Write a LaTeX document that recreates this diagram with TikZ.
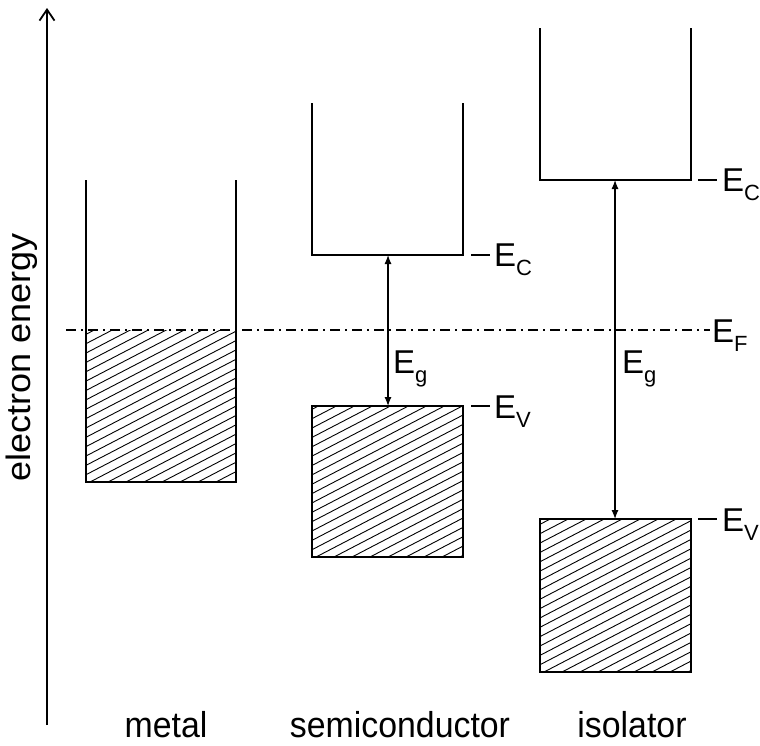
\documentclass[tikz,border=0pt]{standalone}
\usepackage{fontspec}
\setmainfont{Liberation Sans}
\usetikzlibrary{arrows.meta}
\newcommand{\Esub}[1]{E\raisebox{-9pt}{\fontsize{22}{22}\selectfont #1}}
\newcommand{\hatchbox}[4]{%
  \begin{scope}
    \clip (#1,#2) rectangle (#3,#4);
    \foreach \c in {-320,-302,...,200} \draw[hatchline] ({#1+\c},#4) -- ++(420,-218.4);
  \end{scope}}
\begin{document}
\begin{tikzpicture}[x=1pt,y=-1pt,
  band/.style={line width=1.4pt},
  hatchline/.style={line width=0.9pt},
  fermi/.style={line width=1.2pt,dash pattern=on 10pt off 5pt on 2pt off 5pt},
  gaparrow/.style={line width=1.2pt,{Latex[length=9pt,width=7pt]}-{Latex[length=9pt,width=7pt]}},
  lab/.style={font=\fontsize{33}{33}\selectfont,inner sep=0pt},
  biglab/.style={font=\fontsize{36}{36}\selectfont,inner sep=0pt,xscale=0.94},
  tick/.style={line width=1.3pt}]
\useasboundingbox (0,0) rectangle (760,745);
% axis
\coordinate (axb) at (47,725);
\coordinate (axt) at (47,8);
\draw[line width=1.5pt,-{Straight Barb[length=11pt,width=15pt,line width=1.8pt]}] (axb) -- (axt);
\node[biglab,rotate=90] (ylab) at (22,357) {electron energy};
% hatches
\hatchbox{86}{330}{236}{482}
\hatchbox{312}{406}{463}{557}
\hatchbox{540}{519}{691}{672}
% metal
\draw[band] (86,180) -- (86,482) -- (236,482) -- (236,180);
% semiconductor
\draw[band] (312,103) -- (312,255) -- (463,255) -- (463,103);
\draw[band] (312,406) rectangle (463,557);
% isolator
\draw[band] (540,28) -- (540,180) -- (691,180) -- (691,28);
\draw[band] (540,519) rectangle (691,672);
% Fermi level
\coordinate (fl) at (66,330);
\coordinate (fr) at (710,330);
\draw[fermi] (fl) -- (fr);
% gap arrows
\coordinate (scb) at (388,255);
\coordinate (svb) at (388,406);
\draw[gaparrow] (scb) -- (svb);
\coordinate (icb) at (615,180);
\coordinate (ivb) at (615,519);
\draw[gaparrow] (icb) -- (ivb);
% level ticks
\draw[tick] (471,255) -- (490,255);
\draw[tick] (471,406) -- (490,406);
\draw[tick] (698,180) -- (717,180);
\draw[tick] (698,519) -- (717,519);
% labels
\node[lab,anchor=base west] (sEc) at (494,266) {\Esub{C}};
\node[lab,anchor=base west] (sEv) at (494,418) {\Esub{V}};
\node[lab,anchor=base west] (sEg) at (393,373) {\Esub{g}};
\node[lab,anchor=base west] (iEc) at (722,191) {\Esub{C}};
\node[lab,anchor=base west] (iEv) at (722,531) {\Esub{V}};
\node[lab,anchor=base west] (iEg) at (622,373) {\Esub{g}};
\node[lab,anchor=base west] (Ef) at (712,342) {\Esub{F}};
\node[biglab,anchor=base] (metal) at (166,737) {metal};
\node[biglab,anchor=base] (semi) at (400,737) {semiconductor};
\node[biglab,anchor=base] (iso) at (632,737) {isolator};
\end{tikzpicture}
\end{document}
